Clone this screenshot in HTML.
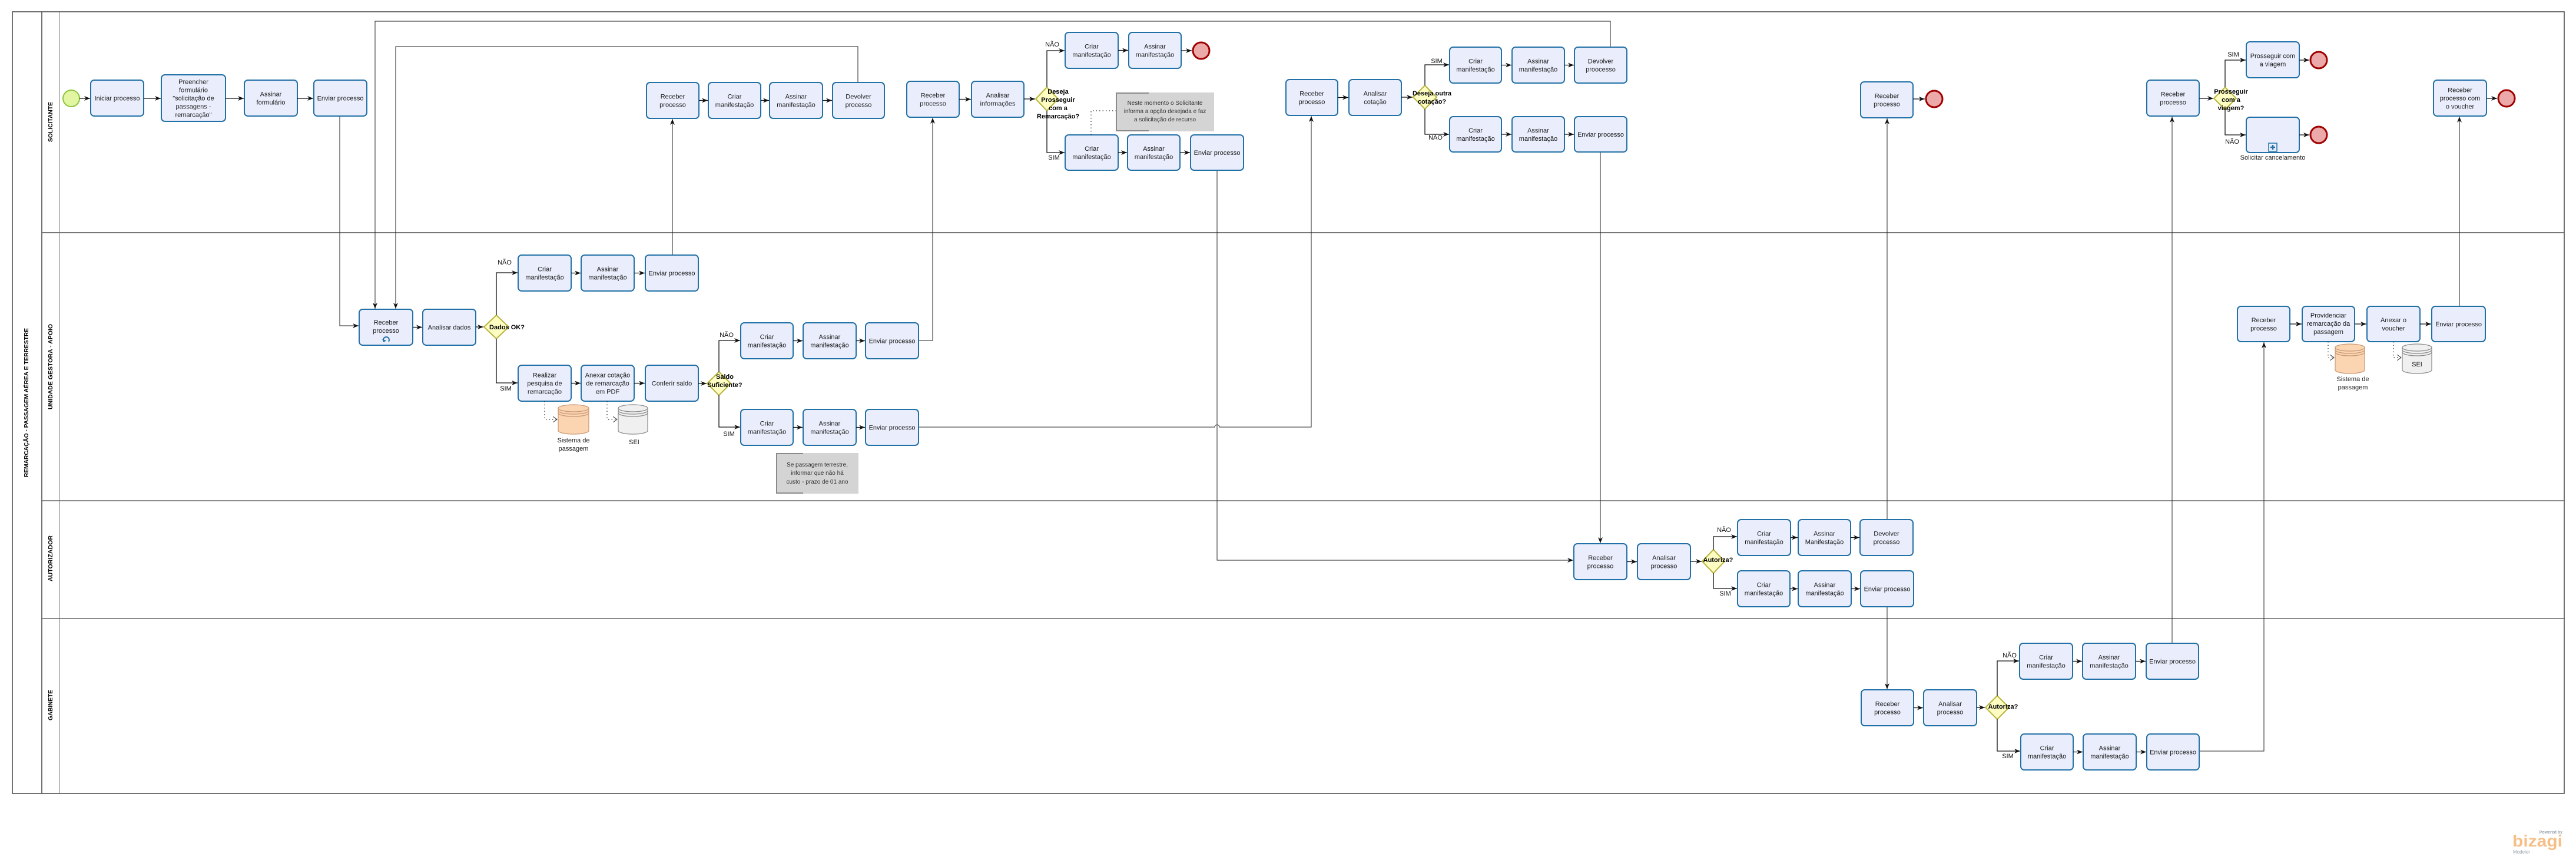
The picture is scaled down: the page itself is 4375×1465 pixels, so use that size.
<!DOCTYPE html>
<html><head><meta charset="utf-8">
<style>
html,body{margin:0;padding:0;background:#fff;}
body{width:4375px;height:1460px;overflow:hidden;}
.t{fill:#eaeefc;stroke:#2170a6;stroke-width:2}
.x{font-family:"Liberation Sans",sans-serif;font-size:11px;fill:#1a1a1a;text-anchor:middle}
.g{font-family:"Liberation Sans",sans-serif;font-size:11px;font-weight:bold;fill:#000;text-anchor:middle}
.l{font-family:"Liberation Sans",sans-serif;font-size:11px;fill:#111;text-anchor:middle}
.n{font-family:"Liberation Sans",sans-serif;font-size:10px;fill:#333;text-anchor:middle}
.ln{font-family:"Liberation Sans",sans-serif;font-size:10px;font-weight:bold;fill:#000}
.f{fill:none;stroke:#111;stroke-width:1.3;marker-end:url(#a)}
.fl{fill:none;stroke:#222;stroke-width:1;marker-end:url(#a)}
.d{fill:#fdfdc3;stroke:#b9b43c;stroke-width:2}
.e{fill:#eba9a9;stroke:#a00000;stroke-width:3}
.as{fill:none;stroke:#222;stroke-width:1.2;stroke-dasharray:1.5,4;marker-end:url(#o)}
</style></head>
<body>
<svg width="4375" height="1460" viewBox="0 0 4375 1460" xmlns="http://www.w3.org/2000/svg">
<defs>
<marker id="a" viewBox="0 0 10 8" refX="10" refY="4" markerWidth="10" markerHeight="8" markerUnits="userSpaceOnUse" orient="auto"><path d="M0,0 L10,4 L0,8 L3,4z" fill="#111"/></marker>
<marker id="o" viewBox="0 0 8 10" refX="7" refY="5" markerWidth="8" markerHeight="10" markerUnits="userSpaceOnUse" orient="auto"><path d="M0,0 L7,5 L0,10" fill="none" stroke="#333" stroke-width="1"/></marker>
</defs>

<!-- Pool and lanes -->
<rect x="21" y="20" width="4334" height="1327" fill="none" stroke="#444" stroke-width="1.5"/>
<line x1="71" y1="20" x2="71" y2="1347" stroke="#444" stroke-width="1.5"/>
<line x1="101" y1="20" x2="101" y2="1347" stroke="#777" stroke-width="1"/>
<line x1="71" y1="395" x2="4355" y2="395" stroke="#777" stroke-width="2"/>
<line x1="71" y1="850" x2="4355" y2="850" stroke="#666" stroke-width="1.5"/>
<line x1="71" y1="1050" x2="4355" y2="1050" stroke="#666" stroke-width="1.5"/>

<text class="ln" transform="translate(48,810) rotate(-90)" textLength="253" lengthAdjust="spacingAndGlyphs">REMARCAÇÃO - PASSAGEM AÉREA E TERRESTRE</text>
<text class="ln" transform="translate(89,241) rotate(-90)" textLength="68" lengthAdjust="spacingAndGlyphs">SOLICITANTE</text>
<text class="ln" transform="translate(89,695) rotate(-90)" textLength="145" lengthAdjust="spacingAndGlyphs">UNIDADE GESTORA - APOIO</text>
<text class="ln" transform="translate(89,987) rotate(-90)" textLength="78" lengthAdjust="spacingAndGlyphs">AUTORIZADOR</text>
<text class="ln" transform="translate(89,1223) rotate(-90)" textLength="52" lengthAdjust="spacingAndGlyphs">GABINETE</text>

<!-- ===== Long connectors ===== -->
<path class="fl" d="M2735,80 V36 H637 V524"/>
<path class="fl" d="M1457,140 V79 H672 V524"/>
<path class="fl" d="M577,197 V553 H609"/>
<path class="fl" d="M1142,433 V202"/>
<path class="fl" d="M1560,578 H1584 V200"/>
<path class="fl" d="M1560,725 H2063 A4,4 0 0 1 2071,725 H2227 V197"/>
<path class="fl" d="M2067,289 V951 H2672"/>
<path class="fl" d="M2718,258 V922"/>
<path class="fl" d="M3205,882 V201"/>
<path class="fl" d="M3205,1030 V1170"/>
<path class="fl" d="M3689,1092 V198"/>
<path class="fl" d="M3735,1275 H3845 V581"/>
<path class="fl" d="M4177,520 V198"/>

<!-- ===== SOLICITANTE ===== -->
<circle cx="121" cy="167" r="14" fill="#e2f5a2" stroke="#8cc43c" stroke-width="2"/>
<path class="f" d="M135,167 H153"/>
<rect class="t" x="154" y="136" width="90" height="61" rx="6"/>
<text class="x" x="199" y="170.5">Iniciar processo</text>
<path class="f" d="M244,167 H273"/>
<rect class="t" x="274" y="127" width="109" height="79" rx="6"/>
<text class="x"><tspan x="328.5" y="142.5">Preencher</tspan><tspan x="328.5" y="156.5">formulário</tspan><tspan x="328.5" y="170.5">"solicitação de</tspan><tspan x="328.5" y="184.5">passagens -</tspan><tspan x="328.5" y="198.5">remarcação"</tspan></text>
<path class="f" d="M383,167 H414"/>
<rect class="t" x="415" y="136" width="90" height="61" rx="6"/>
<text class="x"><tspan x="460" y="163.5">Assinar</tspan><tspan x="460" y="177.5">formulário</tspan></text>
<path class="f" d="M505,167 H532"/>
<rect class="t" x="533" y="136" width="90" height="61" rx="6"/>
<text class="x" x="578" y="170.5">Enviar processo</text>

<!-- block 2 -->
<rect class="t" x="1098" y="140" width="89" height="61" rx="6"/>
<text class="x"><tspan x="1142.5" y="167.5">Receber</tspan><tspan x="1142.5" y="181.5">processo</tspan></text>
<path class="f" d="M1187,170.5 H1202"/>
<rect class="t" x="1203" y="140" width="89" height="61" rx="6"/>
<text class="x"><tspan x="1247.5" y="167.5">Criar</tspan><tspan x="1247.5" y="181.5">manifestação</tspan></text>
<path class="f" d="M1292,170.5 H1306"/>
<rect class="t" x="1307" y="140" width="90" height="61" rx="6"/>
<text class="x"><tspan x="1352" y="167.5">Assinar</tspan><tspan x="1352" y="181.5">manifestação</tspan></text>
<path class="f" d="M1397,170.5 H1413"/>
<rect class="t" x="1414" y="140" width="88" height="61" rx="6"/>
<text class="x"><tspan x="1458" y="167.5">Devolver</tspan><tspan x="1458" y="181.5">processo</tspan></text>

<!-- block 3 -->
<rect class="t" x="1540" y="138" width="89" height="61" rx="6"/>
<text class="x"><tspan x="1584.5" y="165.5">Receber</tspan><tspan x="1584.5" y="179.5">processo</tspan></text>
<path class="f" d="M1629,168.5 H1649"/>
<rect class="t" x="1650" y="138" width="89" height="61" rx="6"/>
<text class="x"><tspan x="1694.5" y="165.5">Analisar</tspan><tspan x="1694.5" y="179.5">informações</tspan></text>
<path class="f" d="M1739,168 H1758"/>
<polygon class="d" points="1759,168 1778,148 1797,168 1778,188"/>
<text class="g"><tspan x="1797" y="159">Deseja</tspan><tspan x="1797" y="173">Prosseguir</tspan><tspan x="1797" y="187">com a</tspan><tspan x="1797" y="201">Remarcação?</tspan></text>
<path class="f" d="M1778,148 V86 H1808"/>
<text class="l" x="1787" y="79">NÃO</text>
<rect class="t" x="1809" y="55" width="90" height="61" rx="6"/>
<text class="x"><tspan x="1854" y="82.5">Criar</tspan><tspan x="1854" y="96.5">manifestação</tspan></text>
<path class="f" d="M1899,85.5 H1916"/>
<rect class="t" x="1917" y="55" width="89" height="61" rx="6"/>
<text class="x"><tspan x="1961.5" y="82.5">Assinar</tspan><tspan x="1961.5" y="96.5">manifestação</tspan></text>
<path class="f" d="M2006,86 H2024"/>
<circle class="e" cx="2040" cy="86" r="14"/>
<path class="f" d="M1778,188 V259 H1808"/>
<text class="l" x="1790" y="271">SIM</text>
<rect class="t" x="1809" y="229" width="90" height="60" rx="6"/>
<text class="x"><tspan x="1854" y="256">Criar</tspan><tspan x="1854" y="270">manifestação</tspan></text>
<path class="f" d="M1899,259 H1914"/>
<rect class="t" x="1915" y="229" width="89" height="60" rx="6"/>
<text class="x"><tspan x="1959.5" y="256">Assinar</tspan><tspan x="1959.5" y="270">manifestação</tspan></text>
<path class="f" d="M2004,259 H2021"/>
<rect class="t" x="2022" y="229" width="90" height="60" rx="6"/>
<text class="x" x="2067" y="263">Enviar processo</text>
<rect x="1895" y="157" width="167" height="66" fill="#d4d4d4"/>
<path d="M1951,158 H1896 V222 H1951" fill="none" stroke="#8a8a8a" stroke-width="2"/>
<text class="n"><tspan x="1978.5" y="178">Neste momento o Solicitante</tspan><tspan x="1978.5" y="192">informa a opção desejada e faz</tspan><tspan x="1978.5" y="206">a solicitação de recurso</tspan></text>
<path d="M1853,229 V188 H1895" fill="none" stroke="#222" stroke-width="1.2" stroke-dasharray="1.5,4"/>

<!-- block 4 -->
<rect class="t" x="2184" y="135" width="88" height="61" rx="6"/>
<text class="x"><tspan x="2228" y="162.5">Receber</tspan><tspan x="2228" y="176.5">processo</tspan></text>
<path class="f" d="M2272,165.5 H2290"/>
<rect class="t" x="2291" y="135" width="89" height="61" rx="6"/>
<text class="x"><tspan x="2335.5" y="162.5">Analisar</tspan><tspan x="2335.5" y="176.5">cotação</tspan></text>
<path class="f" d="M2380,165 H2399"/>
<polygon class="d" points="2400,165 2420,145 2440,165 2420,185"/>
<text class="g"><tspan x="2432" y="162">Deseja outra</tspan><tspan x="2432" y="176">cotação?</tspan></text>
<path class="f" d="M2420,145 V110 H2461"/>
<text class="l" x="2440" y="107">SIM</text>
<rect class="t" x="2462" y="80" width="88" height="61" rx="6"/>
<text class="x"><tspan x="2506" y="107.5">Criar</tspan><tspan x="2506" y="121.5">manifestação</tspan></text>
<path class="f" d="M2550,110.5 H2567"/>
<rect class="t" x="2568" y="80" width="89" height="61" rx="6"/>
<text class="x"><tspan x="2612.5" y="107.5">Assinar</tspan><tspan x="2612.5" y="121.5">manifestação</tspan></text>
<path class="f" d="M2657,110.5 H2673"/>
<rect class="t" x="2674" y="80" width="89" height="61" rx="6"/>
<text class="x"><tspan x="2718.5" y="107.5">Devolver</tspan><tspan x="2718.5" y="121.5">proocesso</tspan></text>
<path class="f" d="M2420,185 V228 H2461"/>
<text class="l" x="2438" y="237">NÃO</text>
<rect class="t" x="2462" y="198" width="88" height="60" rx="6"/>
<text class="x"><tspan x="2506" y="225">Criar</tspan><tspan x="2506" y="239">manifestação</tspan></text>
<path class="f" d="M2550,228 H2567"/>
<rect class="t" x="2568" y="198" width="89" height="60" rx="6"/>
<text class="x"><tspan x="2612.5" y="225">Assinar</tspan><tspan x="2612.5" y="239">manifestação</tspan></text>
<path class="f" d="M2657,228 H2673"/>
<rect class="t" x="2674" y="198" width="89" height="60" rx="6"/>
<text class="x" x="2718.5" y="232">Enviar processo</text>

<!-- block 5 -->
<rect class="t" x="3160" y="139" width="89" height="61" rx="6"/>
<text class="x"><tspan x="3204.5" y="166.5">Receber</tspan><tspan x="3204.5" y="180.5">processo</tspan></text>
<path class="f" d="M3249,168 H3269"/>
<circle class="e" cx="3285" cy="168" r="14"/>

<!-- block 6 -->
<rect class="t" x="3646" y="136" width="89" height="61" rx="6"/>
<text class="x"><tspan x="3690.5" y="163.5">Receber</tspan><tspan x="3690.5" y="177.5">processo</tspan></text>
<path class="f" d="M3735,167 H3759"/>
<polygon class="d" points="3760,167 3779,148 3798,167 3779,186"/>
<text class="g"><tspan x="3789" y="159">Prosseguir</tspan><tspan x="3789" y="173">com a</tspan><tspan x="3789" y="187">viagem?</tspan></text>
<path class="f" d="M3779,148 V102 H3814"/>
<text class="l" x="3793" y="96">SIM</text>
<rect class="t" x="3815" y="71" width="90" height="61" rx="6"/>
<text class="x"><tspan x="3860" y="98.5">Prosseguir com</tspan><tspan x="3860" y="112.5">a viagem</tspan></text>
<path class="f" d="M3905,102 H3922"/>
<circle class="e" cx="3938" cy="102" r="14"/>
<path class="f" d="M3779,186 V229 H3814"/>
<text class="l" x="3791" y="244">NÃO</text>
<rect class="t" x="3815" y="199" width="90" height="60" rx="6"/>
<rect x="3853" y="243" width="14" height="14" fill="#eaeefc" stroke="#2170a6" stroke-width="1.5"/>
<path d="M3860,246 V254 M3856,250 H3864" stroke="#2170a6" stroke-width="2.5"/>
<text class="x" x="3860" y="271">Solicitar cancelamento</text>
<path class="f" d="M3905,229 H3922"/>
<circle class="e" cx="3938" cy="229" r="14"/>

<!-- block 7 -->
<rect class="t" x="4133" y="136" width="90" height="61" rx="6"/>
<text class="x"><tspan x="4178" y="156.5">Receber</tspan><tspan x="4178" y="170.5">processo com</tspan><tspan x="4178" y="184.5">o voucher</tspan></text>
<path class="f" d="M4223,167 H4241"/>
<circle class="e" cx="4257" cy="167" r="14"/>

<!-- ===== UNIDADE GESTORA ===== -->
<rect class="t" x="610" y="525" width="91" height="61" rx="6"/>
<text class="x"><tspan x="655.5" y="551">Receber</tspan><tspan x="655.5" y="565">processo</tspan></text>
<path d="M652,580 A5,5 0 1 1 660,580" fill="none" stroke="#2170a6" stroke-width="2"/>
<path d="M649,576 L652,581 L656,578 Z" fill="#2170a6"/>
<path class="f" d="M701,555.5 H717"/>
<rect class="t" x="718" y="525" width="90" height="61" rx="6"/>
<text class="x" x="763" y="559.5">Analisar dados</text>
<path class="f" d="M808,555 H821"/>
<polygon class="d" points="822,555 843,535 864,555 843,575"/>
<text class="g" x="861" y="559">Dados OK?</text>
<path class="f" d="M843,535 V463 H879"/>
<text class="l" x="857" y="449">NÃO</text>
<rect class="t" x="880" y="433" width="90" height="61" rx="6"/>
<text class="x"><tspan x="925" y="460.5">Criar</tspan><tspan x="925" y="474.5">manifestação</tspan></text>
<path class="f" d="M970,463.5 H986"/>
<rect class="t" x="987" y="433" width="90" height="61" rx="6"/>
<text class="x"><tspan x="1032" y="460.5">Assinar</tspan><tspan x="1032" y="474.5">manifestação</tspan></text>
<path class="f" d="M1077,463.5 H1095"/>
<rect class="t" x="1096" y="433" width="90" height="61" rx="6"/>
<text class="x" x="1141" y="467.5">Enviar processo</text>

<path class="f" d="M843,575 V650 H879"/>
<text class="l" x="859" y="663">SIM</text>
<rect class="t" x="880" y="620" width="90" height="61" rx="6"/>
<text class="x"><tspan x="925" y="640.5">Realizar</tspan><tspan x="925" y="654.5">pesquisa de</tspan><tspan x="925" y="668.5">remarcação</tspan></text>
<path class="f" d="M970,650.5 H986"/>
<rect class="t" x="987" y="620" width="90" height="61" rx="6"/>
<text class="x"><tspan x="1032" y="640.5">Anexar cotação</tspan><tspan x="1032" y="654.5">de remarcação</tspan><tspan x="1032" y="668.5">em PDF</tspan></text>
<path class="f" d="M1077,650.5 H1095"/>
<rect class="t" x="1096" y="620" width="90" height="61" rx="6"/>
<text class="x" x="1141" y="654.5">Conferir saldo</text>
<path class="f" d="M1186,651 H1200"/>
<polygon class="d" points="1201,651 1221,631 1241,651 1221,671"/>
<text class="g"><tspan x="1231" y="643">Saldo</tspan><tspan x="1231" y="657">Suficiente?</tspan></text>

<!-- datastores left -->
<path d="M948,693 A26,6 0 0 1 1000,693 V731 A26,6 0 0 1 948,731 Z" fill="#fbd4b2" stroke="#c99872" stroke-width="1.2"/>
<path d="M948,693 A26,6 0 0 0 1000,693 M948,697 A26,6 0 0 0 1000,697 M948,701 A26,6 0 0 0 1000,701" fill="none" stroke="#c99872" stroke-width="1.2"/>
<text class="x"><tspan x="974" y="751">Sistema de</tspan><tspan x="974" y="765">passagem</tspan></text>
<path d="M1050,693 A25,6 0 0 1 1100,693 V731 A25,6 0 0 1 1050,731 Z" fill="#f0f0f0" stroke="#8a8a8a" stroke-width="1.2"/>
<path d="M1050,693 A25,6 0 0 0 1100,693 M1050,697 A25,6 0 0 0 1100,697 M1050,701 A25,6 0 0 0 1100,701" fill="none" stroke="#8a8a8a" stroke-width="1.2"/>
<text class="x" x="1077" y="754">SEI</text>
<path class="as" d="M925,681 V712 H946"/>
<path class="as" d="M1031,681 V712 H1048"/>

<path class="f" d="M1221,631 V578 H1257"/>
<text class="l" x="1234" y="572">NÃO</text>
<rect class="t" x="1258" y="548" width="89" height="61" rx="6"/>
<text class="x"><tspan x="1302.5" y="575.5">Criar</tspan><tspan x="1302.5" y="589.5">manifestação</tspan></text>
<path class="f" d="M1347,578.5 H1363"/>
<rect class="t" x="1364" y="548" width="90" height="61" rx="6"/>
<text class="x"><tspan x="1409" y="575.5">Assinar</tspan><tspan x="1409" y="589.5">manifestação</tspan></text>
<path class="f" d="M1454,578.5 H1469"/>
<rect class="t" x="1470" y="548" width="90" height="61" rx="6"/>
<text class="x" x="1515" y="582.5">Enviar processo</text>

<path class="f" d="M1221,671 V725 H1257"/>
<text class="l" x="1238" y="740">SIM</text>
<rect class="t" x="1258" y="695" width="89" height="61" rx="6"/>
<text class="x"><tspan x="1302.5" y="722.5">Criar</tspan><tspan x="1302.5" y="736.5">manifestação</tspan></text>
<path class="f" d="M1347,725.5 H1363"/>
<rect class="t" x="1364" y="695" width="90" height="61" rx="6"/>
<text class="x"><tspan x="1409" y="722.5">Assinar</tspan><tspan x="1409" y="736.5">manifestação</tspan></text>
<path class="f" d="M1454,725.5 H1469"/>
<rect class="t" x="1470" y="695" width="90" height="61" rx="6"/>
<text class="x" x="1515" y="729.5">Enviar processo</text>

<rect x="1318" y="769" width="140" height="69" fill="#d4d4d4"/>
<path d="M1364,770 H1319 V837 H1364" fill="none" stroke="#8a8a8a" stroke-width="2"/>
<text class="n"><tspan x="1388" y="792">Se passagem terrestre,</tspan><tspan x="1388" y="806">informar que não há</tspan><tspan x="1388" y="821">custo - prazo de 01 ano</tspan></text>

<!-- UG right -->
<rect class="t" x="3800" y="520" width="89" height="60" rx="6"/>
<text class="x"><tspan x="3844.5" y="547">Receber</tspan><tspan x="3844.5" y="561">processo</tspan></text>
<path class="f" d="M3889,550 H3909"/>
<rect class="t" x="3910" y="520" width="89" height="60" rx="6"/>
<text class="x"><tspan x="3954.5" y="539">Providenciar</tspan><tspan x="3954.5" y="553">remarcação da</tspan><tspan x="3954.5" y="567">passagem</tspan></text>
<path class="f" d="M3999,550 H4019"/>
<rect class="t" x="4020" y="520" width="90" height="60" rx="6"/>
<text class="x"><tspan x="4065" y="547">Anexar o</tspan><tspan x="4065" y="561">voucher</tspan></text>
<path class="f" d="M4110,550 H4129"/>
<rect class="t" x="4130" y="520" width="91" height="60" rx="6"/>
<text class="x" x="4175.5" y="554">Enviar processo</text>
<path d="M3966,590 A25,6 0 0 1 4016,590 V628 A25,6 0 0 1 3966,628 Z" fill="#fbd4b2" stroke="#c99872" stroke-width="1.2"/>
<path d="M3966,590 A25,6 0 0 0 4016,590 M3966,594 A25,6 0 0 0 4016,594 M3966,598 A25,6 0 0 0 4016,598" fill="none" stroke="#c99872" stroke-width="1.2"/>
<text class="x"><tspan x="3996" y="647">Sistema de</tspan><tspan x="3996" y="661">passagem</tspan></text>
<path d="M4080,590 A25,6 0 0 1 4130,590 V628 A25,6 0 0 1 4080,628 Z" fill="#f0f0f0" stroke="#8a8a8a" stroke-width="1.2"/>
<path d="M4080,590 A25,6 0 0 0 4130,590 M4080,594 A25,6 0 0 0 4130,594 M4080,598 A25,6 0 0 0 4130,598" fill="none" stroke="#8a8a8a" stroke-width="1.2"/>
<text class="x" x="4105" y="622">SEI</text>
<path class="as" d="M3954,580 V607 H3964"/>
<path class="as" d="M4065,580 V607 H4078"/>

<!-- ===== AUTORIZADOR ===== -->
<rect class="t" x="2673" y="923" width="90" height="61" rx="6"/>
<text class="x"><tspan x="2718" y="950.5">Receber</tspan><tspan x="2718" y="964.5">processo</tspan></text>
<path class="f" d="M2763,953.5 H2780"/>
<rect class="t" x="2781" y="923" width="90" height="61" rx="6"/>
<text class="x"><tspan x="2826" y="950.5">Analisar</tspan><tspan x="2826" y="964.5">processo</tspan></text>
<path class="f" d="M2871,953 H2890"/>
<polygon class="d" points="2891,953 2910,933 2929,953 2910,973"/>
<text class="g" x="2918" y="954">Autoriza?</text>
<path class="f" d="M2910,933 V911 H2950"/>
<text class="l" x="2928" y="903">NÃO</text>
<rect class="t" x="2951" y="882" width="90" height="61" rx="6"/>
<text class="x"><tspan x="2996" y="909.5">Criar</tspan><tspan x="2996" y="923.5">manifestação</tspan></text>
<path class="f" d="M3041,912.5 H3053"/>
<rect class="t" x="3054" y="882" width="89" height="61" rx="6"/>
<text class="x"><tspan x="3098.5" y="909.5">Assinar</tspan><tspan x="3098.5" y="923.5">Manifestação</tspan></text>
<path class="f" d="M3143,912.5 H3158"/>
<rect class="t" x="3159" y="882" width="90" height="61" rx="6"/>
<text class="x"><tspan x="3204" y="909.5">Devolver</tspan><tspan x="3204" y="923.5">processo</tspan></text>
<path class="f" d="M2910,973 V999 H2950"/>
<text class="l" x="2930" y="1011">SIM</text>
<rect class="t" x="2951" y="969" width="89" height="61" rx="6"/>
<text class="x"><tspan x="2995.5" y="996.5">Criar</tspan><tspan x="2995.5" y="1010.5">manifestação</tspan></text>
<path class="f" d="M3040,999.5 H3053"/>
<rect class="t" x="3054" y="969" width="90" height="61" rx="6"/>
<text class="x"><tspan x="3099" y="996.5">Assinar</tspan><tspan x="3099" y="1010.5">manifestação</tspan></text>
<path class="f" d="M3144,999.5 H3159"/>
<rect class="t" x="3160" y="969" width="90" height="61" rx="6"/>
<text class="x" x="3205" y="1003.5">Enviar processo</text>

<!-- ===== GABINETE ===== -->
<rect class="t" x="3161" y="1171" width="89" height="61" rx="6"/>
<text class="x"><tspan x="3205.5" y="1198.5">Receber</tspan><tspan x="3205.5" y="1212.5">processo</tspan></text>
<path class="f" d="M3250,1201.5 H3266"/>
<rect class="t" x="3267" y="1171" width="90" height="61" rx="6"/>
<text class="x"><tspan x="3312" y="1198.5">Analisar</tspan><tspan x="3312" y="1212.5">processo</tspan></text>
<path class="f" d="M3357,1201 H3371"/>
<polygon class="d" points="3372,1201 3392,1181 3412,1201 3392,1221"/>
<text class="g" x="3402" y="1203">Autoriza?</text>
<path class="f" d="M3392,1181 V1122 H3429"/>
<text class="l" x="3413" y="1116">NÃO</text>
<rect class="t" x="3430" y="1092" width="90" height="61" rx="6"/>
<text class="x"><tspan x="3475" y="1119.5">Criar</tspan><tspan x="3475" y="1133.5">manifestação</tspan></text>
<path class="f" d="M3520,1122.5 H3536"/>
<rect class="t" x="3537" y="1092" width="90" height="61" rx="6"/>
<text class="x"><tspan x="3582" y="1119.5">Assinar</tspan><tspan x="3582" y="1133.5">manifestação</tspan></text>
<path class="f" d="M3627,1122.5 H3644"/>
<rect class="t" x="3645" y="1092" width="89" height="61" rx="6"/>
<text class="x" x="3689.5" y="1126.5">Enviar processo</text>
<path class="f" d="M3392,1221 V1275 H3431"/>
<text class="l" x="3410" y="1287">SIM</text>
<rect class="t" x="3432" y="1246" width="89" height="61" rx="6"/>
<text class="x"><tspan x="3476.5" y="1273.5">Criar</tspan><tspan x="3476.5" y="1287.5">manifestação</tspan></text>
<path class="f" d="M3521,1276.5 H3537"/>
<rect class="t" x="3538" y="1246" width="90" height="61" rx="6"/>
<text class="x"><tspan x="3583" y="1273.5">Assinar</tspan><tspan x="3583" y="1287.5">manifestação</tspan></text>
<path class="f" d="M3628,1276.5 H3645"/>
<rect class="t" x="3646" y="1246" width="89" height="61" rx="6"/>
<text class="x" x="3690.5" y="1280.5">Enviar processo</text>

<!-- Bizagi logo -->
<text x="4352" y="1415" text-anchor="end" font-family="Liberation Sans, sans-serif" font-size="7" font-weight="bold" fill="#9aa5ae">Powered by</text>
<text x="4267" y="1437" font-family="Liberation Sans, sans-serif" font-size="28" font-weight="bold" fill="#f6bf88" textLength="85" lengthAdjust="spacingAndGlyphs">bizagi</text>
<text x="4268" y="1449" font-family="Liberation Sans, sans-serif" font-size="8" fill="#9aa5ae">Modeler</text>
</svg>
</body></html>
